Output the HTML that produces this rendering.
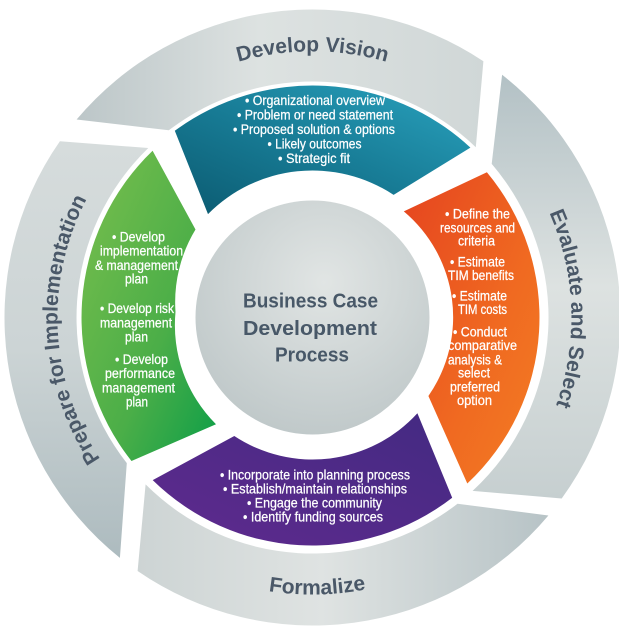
<!DOCTYPE html>
<html><head><meta charset="utf-8">
<style>
html,body{margin:0;padding:0;background:#fff;}
svg{display:block;}
.lbl{font-family:"Liberation Sans",sans-serif;font-weight:bold;font-size:21px;fill:#4a5868;}
.w{font-family:"Liberation Sans",sans-serif;font-size:14px;fill:#fff;stroke:#fff;stroke-width:0.25;text-anchor:middle;}
.c{font-family:"Liberation Sans",sans-serif;font-weight:bold;font-size:20px;fill:#485868;text-anchor:middle;}
</style></head><body>
<svg width="619" height="629" viewBox="0 0 619 629" xmlns="http://www.w3.org/2000/svg">
<defs>
  <linearGradient id="gDV" x1="0" y1="0.5" x2="1" y2="0.5">
    <stop offset="0" stop-color="#bcc6c8"/><stop offset="0.45" stop-color="#dde2e1"/><stop offset="1" stop-color="#d0d7d7"/>
  </linearGradient>
  <linearGradient id="gEV" x1="0" y1="0" x2="0" y2="1">
    <stop offset="0" stop-color="#b3c1c5"/><stop offset="0.5" stop-color="#dde2e1"/><stop offset="1" stop-color="#c6cfd0"/>
  </linearGradient>
  <linearGradient id="gFO" x1="0" y1="0.5" x2="1" y2="0.5">
    <stop offset="0" stop-color="#cdd4d4"/><stop offset="0.45" stop-color="#dfe3e2"/><stop offset="1" stop-color="#b7c3c6"/>
  </linearGradient>
  <linearGradient id="gPR" x1="0" y1="0" x2="0" y2="1">
    <stop offset="0" stop-color="#d6dcdc"/><stop offset="0.5" stop-color="#ccd4d5"/><stop offset="1" stop-color="#adbbbf"/>
  </linearGradient>
  <radialGradient id="gC" cx="0.55" cy="0.35" r="0.7">
    <stop offset="0" stop-color="#e1e5e4"/><stop offset="1" stop-color="#bec7c8"/>
  </radialGradient>
  <linearGradient id="gT" x1="1" y1="0" x2="0" y2="1">
    <stop offset="0" stop-color="#2aa3bf"/><stop offset="0.5" stop-color="#187d97"/><stop offset="1" stop-color="#0b5a70"/>
  </linearGradient>
  <linearGradient id="gO" x1="0" y1="0" x2="1" y2="1">
    <stop offset="0" stop-color="#e5441f"/><stop offset="0.6" stop-color="#f06a21"/><stop offset="1" stop-color="#f37d23"/>
  </linearGradient>
  <linearGradient id="gP" x1="1" y1="0" x2="0" y2="1">
    <stop offset="0" stop-color="#432a82"/><stop offset="1" stop-color="#5f2a8e"/>
  </linearGradient>
  <linearGradient id="gG" x1="0" y1="0" x2="1" y2="1">
    <stop offset="0" stop-color="#7abf4d"/><stop offset="0.6" stop-color="#4bae48"/><stop offset="1" stop-color="#0c9e48"/>
  </linearGradient>
  <path id="pDV" d="M62.5,226.5 A266,266 0 0 1 562.5,226.5"/>
  <path id="pEV" d="M392.5,71.2 A259,259 0 0 1 409.5,557.6"/>
  <path id="pPR" d="M237.9,561.4 A255,255 0 0 1 212.9,82.8"/>
  <path id="pFO" d="M53.9,416.8 A277,277 0 0 0 574.4,407.7"/>
</defs>

<!-- outer gray ring -->
<path d="M76.6,119.5 A308,308 0 0 1 483.4,61.2 L475.8,147.2 A236,236 0 0 0 168.8,130.3 Z" fill="url(#gDV)"/>
<path d="M502.1,74.8 A308,308 0 0 1 561.7,498.5 L472.6,490.9 A236,236 0 0 0 491.7,163.9 Z" fill="url(#gEV)"/>
<path d="M548.4,515.5 A308,308 0 0 1 137.6,571.0 L145.6,484.4 A236,236 0 0 0 457.5,503.7 Z" fill="url(#gFO)"/>
<path d="M119.9,557.9 A308,308 0 0 1 59.9,141.3 L148.3,148.0 A236,236 0 0 0 126.8,463.1 Z" fill="url(#gPR)"/>

<!-- colored inner segments -->
<path d="M174.8,130.8 A232,232 0 0 1 470.4,147.6 L393.6,194.9 A147,147 0 0 0 208.0,214.1 Z" fill="url(#gT)"/>
<path d="M486.9,172.2 A227,227 0 0 1 467.3,483.5 L428.4,396.0 A138,138 0 0 0 403.8,211.4 Z" fill="url(#gO)"/>
<path d="M452.2,497.7 A228,228 0 0 1 152.7,480.1 L234.3,436.0 A142,142 0 0 0 417.4,413.3 Z" fill="url(#gP)"/>
<path d="M131.5,461.0 A231,231 0 0 1 152.6,150.8 L195.5,229.5 A140,140 0 0 0 175.5,312 A140,140 0 0 0 216.0,424.3 Z" fill="url(#gG)"/>

<!-- center circle -->
<circle cx="312.5" cy="317.5" r="117" fill="url(#gC)"/>

<!-- ring labels -->
<text class="lbl"><textPath href="#pDV" startOffset="50%" text-anchor="middle">Develop Vision</textPath></text>
<text class="lbl"><textPath href="#pEV" startOffset="50%" text-anchor="middle">Evaluate and Select</textPath></text>
<text class="lbl"><textPath href="#pPR" startOffset="50%" text-anchor="middle">Prepare for Implementation</textPath></text>
<text class="lbl"><textPath href="#pFO" startOffset="50%" text-anchor="middle">Formalize</textPath></text>

<!-- center title -->
<text class="c" x="310.5" y="307.7" textLength="135" lengthAdjust="spacingAndGlyphs">Business Case</text>
<text class="c" x="310" y="335" textLength="134" lengthAdjust="spacingAndGlyphs">Development</text>
<text class="c" x="312" y="361.7" textLength="74" lengthAdjust="spacingAndGlyphs">Process</text>

<!-- teal text -->
<text class="w" x="315" y="105" textLength="140" lengthAdjust="spacingAndGlyphs">• Organizational overview</text>
<text class="w" x="315" y="119.5" textLength="156" lengthAdjust="spacingAndGlyphs">• Problem or need statement</text>
<text class="w" x="314" y="134" textLength="162" lengthAdjust="spacingAndGlyphs">• Proposed solution &amp; options</text>
<text class="w" x="314.5" y="148.5" textLength="94" lengthAdjust="spacingAndGlyphs">• Likely outcomes</text>
<text class="w" x="314" y="163" textLength="72" lengthAdjust="spacingAndGlyphs">• Strategic fit</text>

<!-- green text -->
<text class="w" x="138.5" y="241.5" textLength="53" lengthAdjust="spacingAndGlyphs">• Develop</text>
<text class="w" x="141.5" y="255.5" textLength="83" lengthAdjust="spacingAndGlyphs">implementation</text>
<text class="w" x="136.5" y="270" textLength="83" lengthAdjust="spacingAndGlyphs">&amp; management</text>
<text class="w" x="136.5" y="283.5" textLength="23" lengthAdjust="spacingAndGlyphs">plan</text>
<text class="w" x="137" y="313" textLength="74" lengthAdjust="spacingAndGlyphs">• Develop risk</text>
<text class="w" x="136" y="327.5" textLength="72" lengthAdjust="spacingAndGlyphs">management</text>
<text class="w" x="136.5" y="341.5" textLength="23" lengthAdjust="spacingAndGlyphs">plan</text>
<text class="w" x="141.5" y="364" textLength="53" lengthAdjust="spacingAndGlyphs">• Develop</text>
<text class="w" x="140" y="378" textLength="70" lengthAdjust="spacingAndGlyphs">performance</text>
<text class="w" x="138.5" y="392.5" textLength="73" lengthAdjust="spacingAndGlyphs">management</text>
<text class="w" x="137" y="406.5" textLength="22" lengthAdjust="spacingAndGlyphs">plan</text>

<!-- orange text -->
<text class="w" x="477.5" y="218.3" textLength="65" lengthAdjust="spacingAndGlyphs">• Define the</text>
<text class="w" x="477.5" y="232.7" textLength="75" lengthAdjust="spacingAndGlyphs">resources and</text>
<text class="w" x="476.5" y="245.7" textLength="37" lengthAdjust="spacingAndGlyphs">criteria</text>
<text class="w" x="477.5" y="266.7" textLength="55" lengthAdjust="spacingAndGlyphs">• Estimate</text>
<text class="w" x="481" y="280" textLength="66" lengthAdjust="spacingAndGlyphs">TIM benefits</text>
<text class="w" x="479.5" y="300.7" textLength="55" lengthAdjust="spacingAndGlyphs">• Estimate</text>
<text class="w" x="482.5" y="314" textLength="49" lengthAdjust="spacingAndGlyphs">TIM costs</text>
<text class="w" x="480" y="336.7" textLength="54" lengthAdjust="spacingAndGlyphs">• Conduct</text>
<text class="w" x="482.5" y="350" textLength="69" lengthAdjust="spacingAndGlyphs">comparative</text>
<text class="w" x="475" y="364.3" textLength="54" lengthAdjust="spacingAndGlyphs">analysis &amp;</text>
<text class="w" x="474" y="377.3" textLength="32" lengthAdjust="spacingAndGlyphs">select</text>
<text class="w" x="475" y="391.7" textLength="50" lengthAdjust="spacingAndGlyphs">preferred</text>
<text class="w" x="474.5" y="405" textLength="35" lengthAdjust="spacingAndGlyphs">option</text>

<!-- purple text -->
<text class="w" x="315" y="479.3" textLength="190" lengthAdjust="spacingAndGlyphs">• Incorporate into planning process</text>
<text class="w" x="315" y="493.3" textLength="184" lengthAdjust="spacingAndGlyphs">• Establish/maintain relationships</text>
<text class="w" x="314.5" y="507.7" textLength="135" lengthAdjust="spacingAndGlyphs">• Engage the community</text>
<text class="w" x="313" y="521.7" textLength="140" lengthAdjust="spacingAndGlyphs">• Identify funding sources</text>
</svg>
</body></html>
